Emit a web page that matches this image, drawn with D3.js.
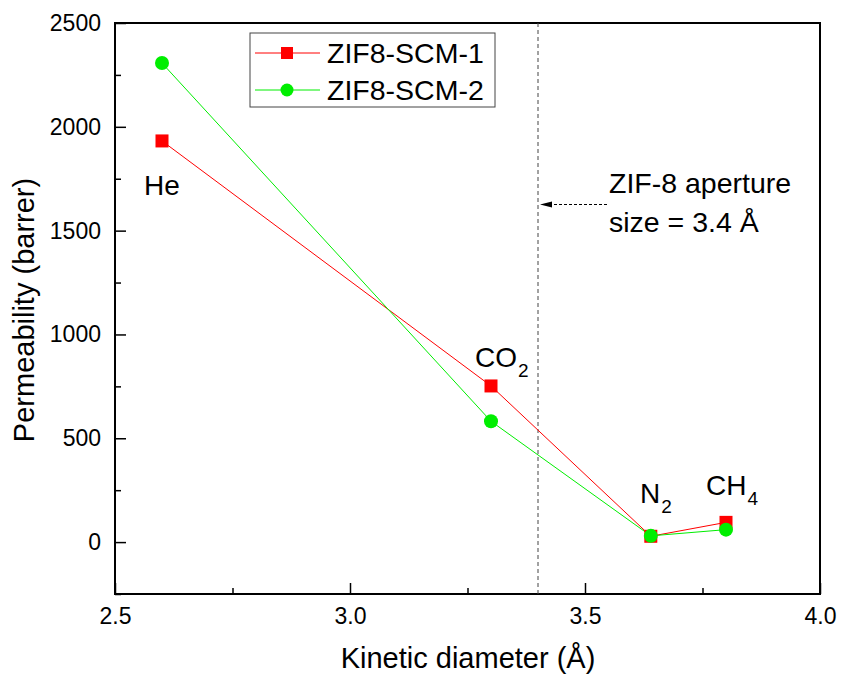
<!DOCTYPE html>
<html><head><meta charset="utf-8">
<script src="https://cdn.jsdelivr.net/npm/d3@7"></script>
<style>body{margin:0;background:#fff}text{font-family:"Liberation Sans",Arial,sans-serif}</style>
</head><body>
<svg id="c" width="843" height="680"></svg>
<script>
const diameters = [2.6, 3.3, 3.64, 3.8];
const gases = ["He", "CO2", "N2", "CH4"];
const scm1 = [1932, 752, 28, 95];
const scm2 = [2307, 582, 30, 60];
const xTicks = [2.5, 3.0, 3.5, 4.0];
const yTicks = [0, 500, 1000, 1500, 2000, 2500];
const aperture = 3.4;

const svg = d3.select("#c");
const L = 115, R = 820, T = 23, B = 594;
const FF = "Liberation Sans, Arial, sans-serif";
const x = d3.scaleLinear().domain([2.5, 4.0]).range([L, R]);
const y = d3.scaleLinear().domain([-250, 2500]).range([B, T]);

// frame
svg.append("rect").attr("x", L).attr("y", T).attr("width", R - L).attr("height", B - T)
  .attr("fill", "none").attr("stroke", "#000").attr("stroke-width", 2);

// x axis
const xa = svg.append("g").attr("transform", `translate(0,${B})`)
  .call(d3.axisBottom(x).tickValues(xTicks).tickFormat(d3.format(".1f")).tickSize(-11).tickPadding(14));
xa.select(".domain").remove();
xa.selectAll("line").attr("stroke-width", 1.5);
xa.selectAll("text").attr("font-size", 23).attr("font-family", FF).attr("fill", "#000");
const xm = svg.append("g").attr("transform", `translate(0,${B})`)
  .call(d3.axisBottom(x).tickValues([2.75, 3.25, 3.75]).tickFormat("").tickSize(-6));
xm.select(".domain").remove();
xm.selectAll("line").attr("stroke-width", 1.5);

// y axis
const ya = svg.append("g").attr("transform", `translate(${L},0)`)
  .call(d3.axisLeft(y).tickValues(yTicks).tickFormat(d3.format("d")).tickSize(-11).tickPadding(14));
ya.select(".domain").remove();
ya.selectAll("line").attr("stroke-width", 1.5);
ya.selectAll("text").attr("font-size", 23).attr("font-family", FF).attr("fill", "#000");
const ym = svg.append("g").attr("transform", `translate(${L},0)`)
  .call(d3.axisLeft(y).tickValues([-250, 250, 750, 1250, 1750, 2250]).tickFormat("").tickSize(-6));
ym.select(".domain").remove();
ym.selectAll("line").attr("stroke-width", 1.5);

// axis titles
svg.append("text").attr("x", 468).attr("y", 668).attr("text-anchor", "middle")
  .attr("font-size", 29).text("Kinetic diameter (Å)");
svg.append("text").attr("transform", `translate(34,310) rotate(-90)`).attr("text-anchor", "middle")
  .attr("font-size", 29).text("Permeability (barrer)");

// aperture line
svg.append("line").attr("x1", x(aperture)).attr("x2", x(aperture)).attr("y1", T).attr("y2", B)
  .attr("stroke", "#444").attr("stroke-width", 1).attr("stroke-dasharray", "4,3");
svg.append("line").attr("x1", 607).attr("x2", x(aperture) + 4).attr("y1", 204.5).attr("y2", 204.5)
  .attr("stroke", "#000").attr("stroke-width", 1).attr("stroke-dasharray", "3,2");
svg.append("path").attr("d", `M${x(aperture)+2},204.5 L${x(aperture)+14},201.5 L${x(aperture)+14},207.5 Z`).attr("fill", "#000");
svg.append("text").attr("x", 609).attr("y", 193).attr("font-size", 28.5).text("ZIF-8 aperture");
svg.append("text").attr("x", 609).attr("y", 232).attr("font-size", 28.5).text("size = 3.4 Å");

// series
const red = "#ff0000", green = "#00ee00";
const line = d3.line().x((d, i) => x(diameters[i])).y(d => y(d));
svg.append("path").attr("d", line(scm1)).attr("fill", "none").attr("stroke", red).attr("stroke-width", 1);
svg.append("path").attr("d", line(scm2)).attr("fill", "none").attr("stroke", green).attr("stroke-width", 1);
svg.selectAll(".sq").data(scm1).enter().append("rect")
  .attr("x", (d, i) => x(diameters[i]) - 6.5).attr("y", d => y(d) - 6.5)
  .attr("width", 13).attr("height", 13).attr("fill", red);
svg.selectAll(".ci").data(scm2).enter().append("circle")
  .attr("cx", (d, i) => x(diameters[i])).attr("cy", d => y(d)).attr("r", 7).attr("fill", green);

// gas labels
const labelPos = [[144, 195], [475, 367], [640, 503], [706, 495]];
gases.forEach((g, i) => {
  const t = svg.append("text").attr("x", labelPos[i][0]).attr("y", labelPos[i][1])
    .attr("font-size", 28);
  const m = g.match(/^([A-Za-z]+?)(\d*)$/);
  t.append("tspan").text(m[1]);
  if (m[2]) t.append("tspan").attr("font-size", 19).attr("dy", 10).attr("dx", 1).text(m[2]);
});

// legend
const lg = svg.append("g");
lg.append("rect").attr("x", 250).attr("y", 33).attr("width", 245).attr("height", 74)
  .attr("fill", "#fff").attr("stroke", "#444").attr("stroke-width", 1);
[[red, "ZIF8-SCM-1", 53, "sq"], [green, "ZIF8-SCM-2", 90, "ci"]].forEach(([c, name, yy, shp]) => {
  lg.append("line").attr("x1", 255).attr("x2", 320).attr("y1", yy).attr("y2", yy).attr("stroke", c).attr("stroke-width", 1);
  if (shp === "sq") lg.append("rect").attr("x", 281).attr("y", yy - 6).attr("width", 12).attr("height", 12).attr("fill", c);
  else lg.append("circle").attr("cx", 287).attr("cy", yy).attr("r", 6.5).attr("fill", c);
  lg.append("text").attr("x", 327).attr("y", yy + 10).attr("font-size", 28.5).text(name);
});
</script>
</body></html>
